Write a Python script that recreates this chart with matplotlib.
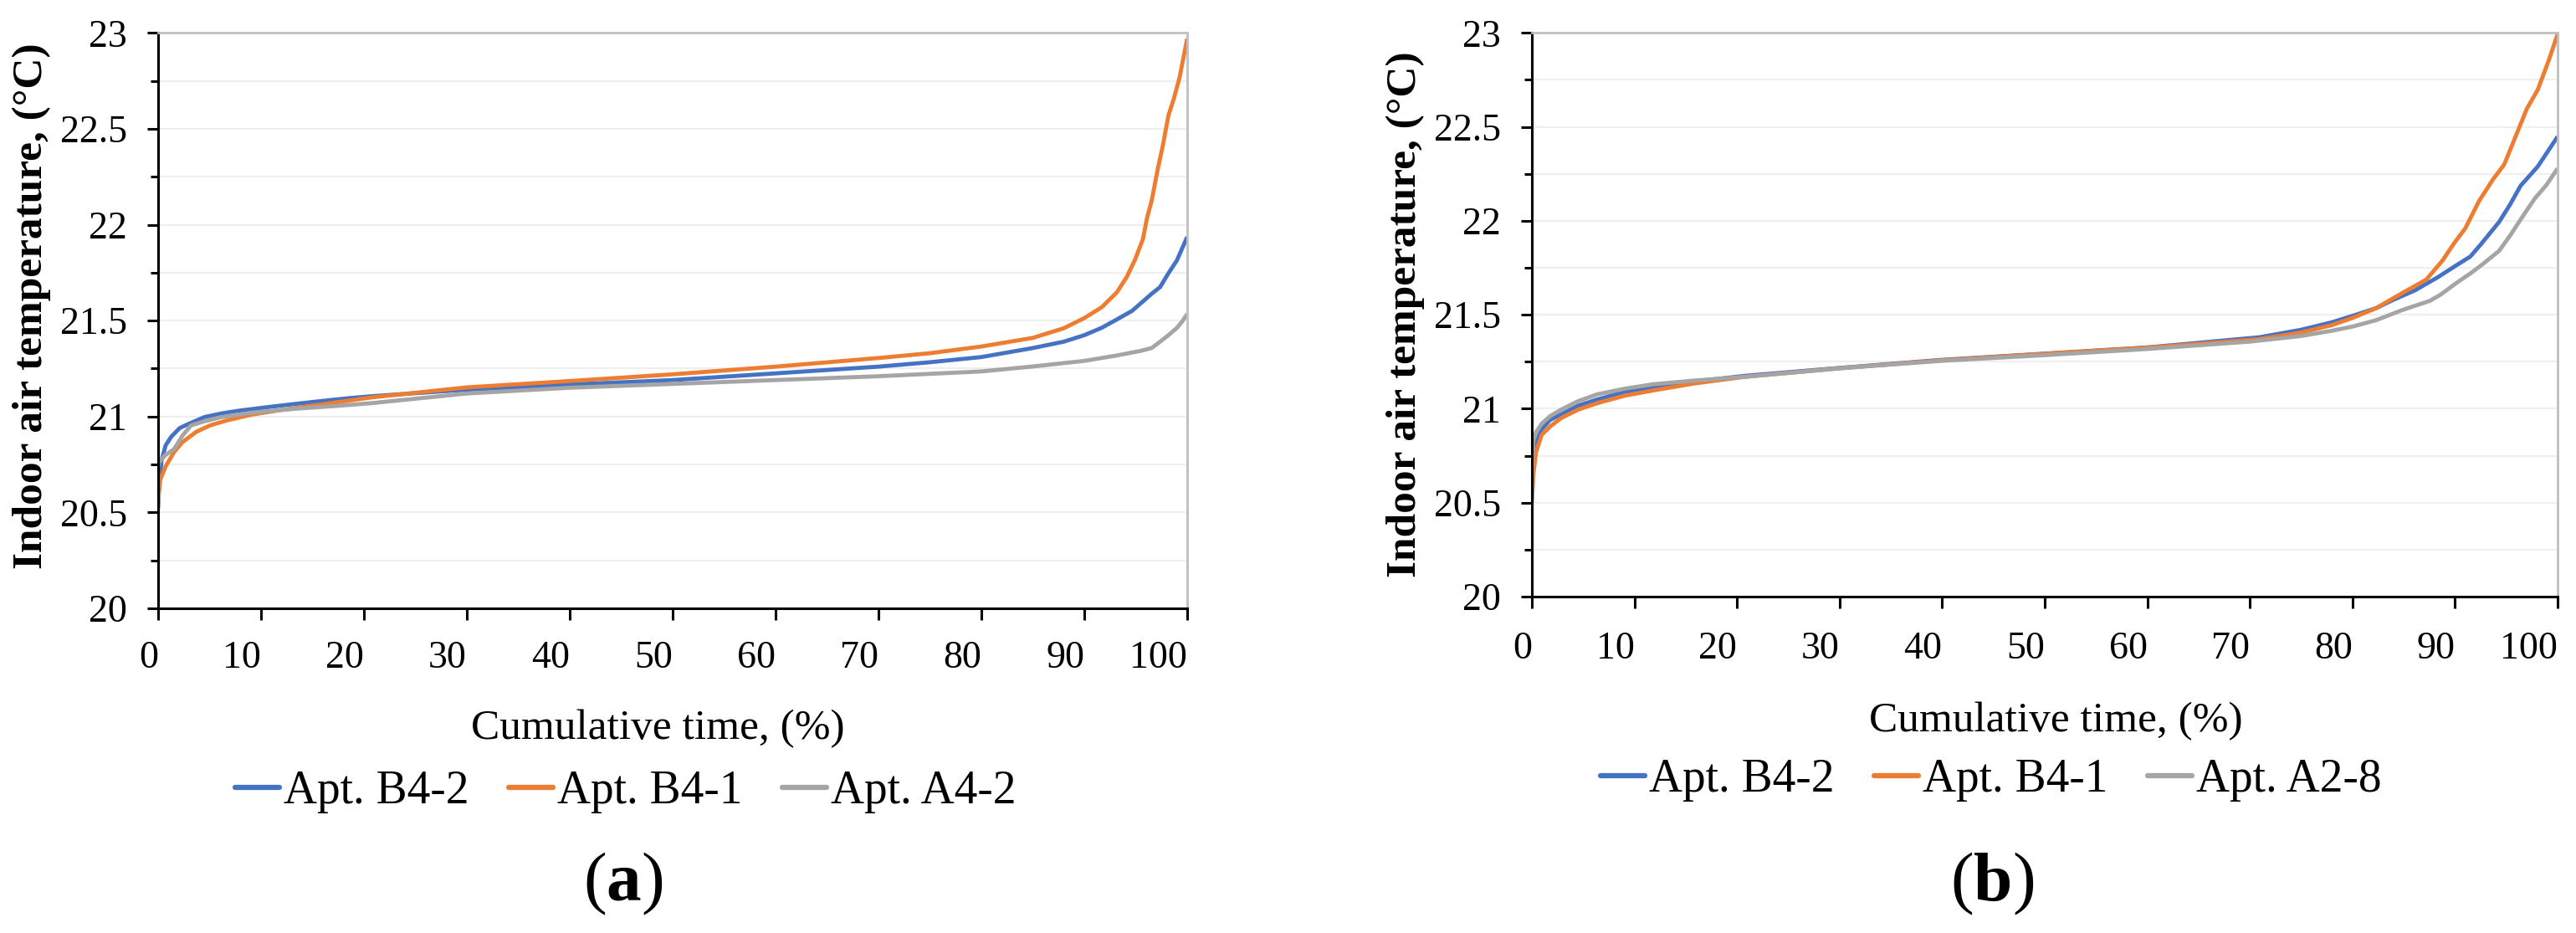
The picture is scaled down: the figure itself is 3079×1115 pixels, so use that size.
import matplotlib
matplotlib.use("Agg")
import matplotlib.pyplot as plt
from matplotlib.ticker import MultipleLocator
from matplotlib.lines import Line2D

plt.rcParams['font.family'] = ['Liberation Serif', 'DejaVu Serif']
plt.rcParams['mathtext.fontset'] = 'custom'
plt.rcParams['mathtext.rm'] = 'Liberation Serif'
plt.rcParams['mathtext.bf'] = 'Liberation Serif:bold'

W, H = 3079, 1115

# ---------------- data: panel (a) ----------------
a_b42_x = [0, 0.05, 0.33, 0.73, 1.28, 2.1, 2.9, 4.5, 6.15, 7.8, 10.5, 13.2, 15.9, 18.6, 20.8,
           30, 40, 50, 60, 70, 75, 80, 85, 88, 90, 91.67, 93.03, 94.65, 95.74, 96.55, 97.37,
           98.18, 99.0, 99.54, 100]
a_b42_y = [20.52, 20.6, 20.77, 20.85, 20.895, 20.94, 20.96, 20.997, 21.016, 21.03, 21.048, 21.065,
           21.081, 21.096, 21.106, 21.14, 21.167, 21.19, 21.225, 21.26, 21.283, 21.31, 21.357,
           21.39, 21.424, 21.462, 21.502, 21.551, 21.602, 21.64, 21.675, 21.747, 21.814, 21.88,
           21.936]

a_b41_x = [0, 0.2, 0.73, 1.55, 2.36, 3.7, 5.06, 6.7, 9.1, 11.8, 15.9, 20.8, 30, 40, 50, 60, 70,
           75, 80, 85, 88, 90, 91.7, 93.16, 94.1, 94.9, 95.7, 96.1, 96.55, 97.1, 97.64, 98.18,
           98.72, 99.27, 99.67, 100]
a_b41_y = [20.56, 20.67, 20.74, 20.815, 20.866, 20.92, 20.954, 20.98, 21.01, 21.033, 21.063, 21.1,
           21.152, 21.185, 21.22, 21.26, 21.305, 21.33, 21.365, 21.41, 21.46, 21.513, 21.57,
           21.647, 21.725, 21.814, 21.925, 22.036, 22.125, 22.28, 22.414, 22.57, 22.66, 22.77,
           22.88, 22.97]

a_a42_x = [0, 0.05, 0.73, 1.55, 2.36, 3.2, 4.5, 6.15, 9.1, 13.2, 17.3, 20.8, 30, 40, 50, 60, 70,
           80, 85, 90, 93.03, 95.47, 96.55, 97.37, 98.18, 99.0, 99.54, 100]
a_a42_y = [20.74, 20.76, 20.80, 20.83, 20.90, 20.954, 20.975, 20.997, 21.02, 21.04, 21.055, 21.07,
           21.12, 21.15, 21.17, 21.19, 21.21, 21.235, 21.261, 21.29, 21.317, 21.342, 21.357,
           21.39, 21.424, 21.462, 21.497, 21.535]

# ---------------- data: panel (b) ----------------
b_b42_x = [0, 0.14, 0.95, 1.77, 2.85, 4.5, 6.4, 9.1, 11.8, 15.9, 20.8, 30, 40, 50, 60, 70.9, 75,
           78, 80, 82.3, 84, 86.1, 88.3, 89.9, 91.5, 92.6, 94.3, 95.35, 96.4, 98.07, 100]
b_b42_y = [20.6, 20.785, 20.89, 20.94, 20.97, 21.016, 21.05, 21.09, 21.115, 21.145, 21.175, 21.217,
           21.26, 21.293, 21.326, 21.38, 21.42, 21.46, 21.494, 21.535, 21.58, 21.63, 21.699,
           21.755, 21.81, 21.88, 21.994, 22.085, 22.187, 22.289, 22.448]

b_b41_x = [0, 0.14, 0.41, 0.95, 1.77, 2.85, 4.5, 6.4, 9.1, 11.8, 15.9, 20.8, 30, 40, 50, 60, 70.9,
           75, 78, 80, 82.3, 85, 87.2, 88.8, 89.9, 91.0, 92.36, 93.7, 94.8, 95.9, 97.0, 98.07,
           99.16, 100]
b_b41_y = [20.5, 20.65, 20.77, 20.86, 20.905, 20.95, 20.995, 21.03, 21.07, 21.097, 21.135, 21.17,
           21.215, 21.258, 21.292, 21.325, 21.37, 21.405, 21.445, 21.483, 21.535, 21.62, 21.687,
           21.79, 21.88, 21.96, 22.107, 22.22, 22.3, 22.448, 22.596, 22.698, 22.857, 22.993]

b_a28_x = [0, 0.14, 0.41, 0.95, 1.77, 2.85, 4.5, 6.4, 9.1, 11.8, 15.9, 20.8, 30, 40, 50, 60, 70,
           75, 78, 80, 82.3, 85, 87.5, 88.6, 90, 91.5, 92.6, 94.3, 95.35, 96.8, 97.8, 98.9, 100]
b_a28_y = [20.65, 20.83, 20.875, 20.92, 20.96, 20.995, 21.04, 21.077, 21.107, 21.13, 21.15, 21.17,
           21.215, 21.255, 21.285, 21.318, 21.357, 21.387, 21.415, 21.437, 21.471, 21.528, 21.573,
           21.607, 21.664, 21.72, 21.765, 21.84, 21.92, 22.04, 22.12, 22.19, 22.278]

labels_a = ["Apt. B4-2", "Apt. B4-1", "Apt. A4-2"]
labels_b = ["Apt. B4-2", "Apt. B4-1", "Apt. A2-8"]
x_ticks = [0, 10, 20, 30, 40, 50, 60, 70, 80, 90, 100]
y_ticks = [20, 20.5, 21, 21.5, 22, 22.5, 23]
colors = ["#4472C4", "#ED7D31", "#A5A5A5"]

fig = plt.figure(figsize=(W / 100, H / 100), dpi=100)


def make_axes(l, r, b, t):
    return fig.add_axes([l / W, 1 - b / H, (r - l) / W, (b - t) / H])


def style(ax, xpad):
    ax.set_xlim(0, 100)
    ax.set_ylim(20, 23)
    ax.set_xticks(x_ticks)
    ax.set_xticklabels([str(v) for v in x_ticks])
    ax.set_yticks(y_ticks)
    ax.set_yticklabels([f"{v:g}" for v in y_ticks])
    ax.yaxis.set_minor_locator(MultipleLocator(0.25))
    ax.set_axisbelow(True)
    ax.grid(which='both', axis='y', color='#EFEFEF', lw=1.6)
    for s in ['left', 'bottom']:
        ax.spines[s].set_color('black')
        ax.spines[s].set_linewidth(2.2)
    for s in ['top', 'right']:
        ax.spines[s].set_color('#BFBFBF')
        ax.spines[s].set_linewidth(2.0)
    ax.tick_params(axis='y', which='major', length=9.5, width=2.2, pad=17, labelsize=33)
    ax.tick_params(axis='y', which='minor', length=6.5, width=2.2)
    ax.tick_params(axis='x', which='major', length=10, width=2.2, pad=xpad, labelsize=33)
    for lab in ax.get_xticklabels():
        lab.set_horizontalalignment('right')


ax1 = make_axes(189, 1419, 727, 39.3)
ax1.plot(a_b42_x, a_b42_y, color=colors[0], lw=3.5, solid_capstyle='butt', solid_joinstyle='round')
ax1.plot(a_b41_x, a_b41_y, color=colors[1], lw=3.5, solid_capstyle='butt', solid_joinstyle='round')
ax1.plot(a_a42_x, a_a42_y, color=colors[2], lw=3.5, solid_capstyle='butt', solid_joinstyle='round')
style(ax1, 18)

ax2 = make_axes(1831, 3057, 713, 39.3)
ax2.plot(b_b42_x, b_b42_y, color=colors[0], lw=3.5, solid_capstyle='butt', solid_joinstyle='round')
ax2.plot(b_b41_x, b_b41_y, color=colors[1], lw=3.5, solid_capstyle='butt', solid_joinstyle='round')
ax2.plot(b_a28_x, b_a28_y, color=colors[2], lw=3.5, solid_capstyle='butt', solid_joinstyle='round')
style(ax2, 20)

ylab = "Indoor air temperature, (°C)"
fig.text(38 / W, 1 - 366 / H, ylab, rotation=90, ha='center', va='center',
         fontsize=37, fontweight='bold')
fig.text(1680 / W, 1 - 376 / H, ylab, rotation=90, ha='center', va='center',
         fontsize=37, fontweight='bold')
fig.text(786 / W, 1 - 883 / H, "Cumulative time, (%)", ha='center', va='baseline', fontsize=37)
fig.text(2457 / W, 1 - 874 / H, "Cumulative time, (%)", ha='center', va='baseline', fontsize=37)

h = [Line2D([], [], color=c, lw=4.5, solid_capstyle='round') for c in colors]
fig.legend(h, labels_a, loc='center', bbox_to_anchor=(748 / W, 1 - 946 / H), ncol=3,
           frameon=False, fontsize=40, handlelength=0.95, handletextpad=0.1,
           columnspacing=0.85, borderpad=0, borderaxespad=0)
fig.legend(h, labels_b, loc='center', bbox_to_anchor=(2380 / W, 1 - 932 / H), ncol=3,
           frameon=False, fontsize=40, handlelength=0.95, handletextpad=0.1,
           columnspacing=0.85, borderpad=0, borderaxespad=0)

fig.text(745 / W, 1 - 1056 / H, r"($\mathbf{a}$)", ha='center', va='center', fontsize=60)
fig.text(2381 / W, 1 - 1056 / H, r"($\mathbf{b}$)", ha='center', va='center', fontsize=60)

fig.savefig("out.png", dpi=100, facecolor='white')
